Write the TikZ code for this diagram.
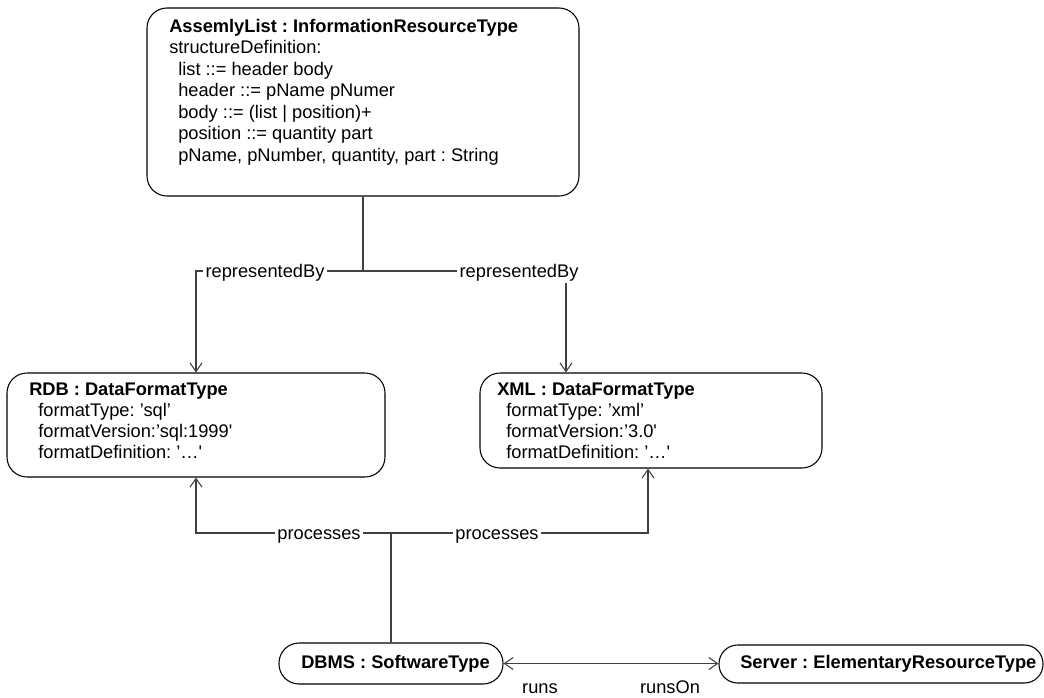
\documentclass[tikz,border=0pt]{standalone}
\usepackage{fontspec}
\setmainfont{Liberation Sans}
\usetikzlibrary{arrows.meta}
\newcommand\fsz{\fontsize{13.7}{16}\selectfont\frenchspacing}
\newcommand\sq{\textquotesingle}
\begin{document}
\begin{tikzpicture}[x=0.75pt,y=-0.75pt,
  frame/.style={draw=black, line width=0.8pt, rounded corners=15pt, inner sep=0pt},
  pill/.style={draw=black, line width=0.8pt, inner sep=0pt, font=\fsz\bfseries},
  link/.style={draw=black!75, line width=0.8pt},
  tipend/.style={-{Straight Barb[length=6.5pt,width=9pt]}},
  tipboth/.style={{Straight Barb[length=6.5pt,width=9pt]}-{Straight Barb[length=6.5pt,width=9pt]}},
  txt/.style={anchor=base west, inner sep=0pt, font=\fsz},
  ttl/.style={txt, font=\fsz\bfseries},
  lbl/.style={anchor=base, fill=white, inner xsep=2pt, inner ysep=1.5pt, font=\fsz},
  plain/.style={anchor=base, inner sep=0pt, font=\fsz}]
\useasboundingbox (0,0) rectangle (1044,697);

% object boxes
\node[frame, minimum width=324pt, minimum height=141pt] (top) at (363,102) {};
\node[frame, minimum width=283.5pt, minimum height=78pt] (rdb) at (196,425) {};
\node[frame, minimum width=256.5pt, minimum height=71.25pt] (xml) at (651,420.5) {};
\node[pill, rounded corners=15pt, minimum width=168pt, minimum height=30.75pt] (dbms) at (391,663.5) {\hspace*{6.75pt}DBMS : SoftwareType};
\node[pill, rounded corners=14pt, minimum width=243pt, minimum height=28.5pt] (server) at (881,664) {\hspace*{11pt}Server : ElementaryResourceType};

% information resource
\node[ttl] (t0) at (169,32) {AssemlyList : InformationResourceType};
\node[txt] (t1) at (169,53.5) {structureDefinition:};
\node[txt] (t2) at (178,75) {list ::= header body};
\node[txt] (t3) at (178,96.5) {header ::= pName pNumer};
\node[txt] (t4) at (178,118) {body ::= (list | position)+};
\node[txt] (t5) at (178,139.5) {position ::= quantity part};
\node[txt] (t6) at (178,161) {pName, pNumber, quantity, part : String};

% relational format
\node[ttl] (r0) at (29,395) {RDB : DataFormatType};
\node[txt] (r1) at (38,416) {formatType: ’sql’};
\node[txt] (r2) at (38,437) {formatVersion:’sql:1999\sq};
\node[txt] (r3) at (38,458) {formatDefinition: ’…\sq};

% xml format
\node[ttl] (x0) at (497,395) {XML : DataFormatType};
\node[txt] (x1) at (506,416) {formatType: ’xml’};
\node[txt] (x2) at (506,437) {formatVersion:’3.0\sq};
\node[txt] (x3) at (506,458) {formatDefinition: ’…\sq};

% representedBy
\coordinate (rb) at (363,271);
\coordinate (rbl) at (196,271);
\coordinate (rbr) at (566,271);
\draw[link] (top.south) -- (rb);
\draw[link, tipend] (rb) -- (rbl) -- (rbl |- rdb.north);
\draw[link, tipend] (rb) -- (rbr) -- (rbr |- xml.north);
\node[lbl] (rbA) at (265,277) {representedBy};
\node[lbl] (rbB) at (519,277) {representedBy};

% processes
\coordinate (pj) at (391,533);
\coordinate (pl) at (196,533);
\coordinate (pr) at (648,533);
\draw[link] (dbms.north) -- (pj);
\draw[link, tipend] (pj) -- (pl) -- (pl |- rdb.south);
\draw[link, tipend] (pj) -- (pr) -- (pr |- xml.south);
\node[lbl] (prA) at (319,539) {processes};
\node[lbl] (prB) at (497,539) {processes};

% runs / runsOn
\draw[link, tipboth] (dbms.east) -- (dbms.east -| server.west);
\node[plain] (runs) at (540,693) {runs};
\node[plain] (runsOn) at (670,693) {runsOn};
\end{tikzpicture}
\end{document}
